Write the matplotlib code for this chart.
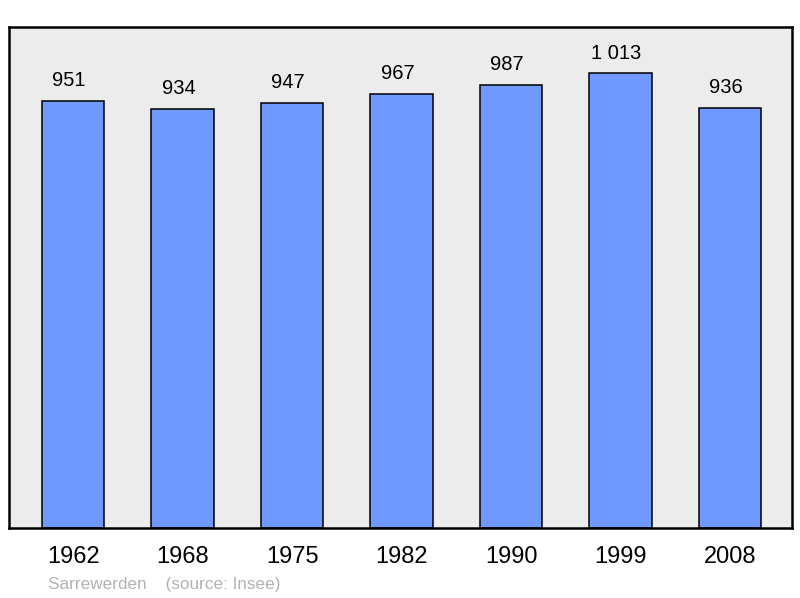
import matplotlib
matplotlib.use('Agg')
import matplotlib.pyplot as plt

plt.rcParams['font.family'] = ['Liberation Sans', 'DejaVu Sans']

years = ['1962', '1968', '1975', '1982', '1990', '1999', '2008']
population = [951, 934, 947, 967, 987, 1013, 936]
value_labels = ['951', '934', '947', '967', '987', '1 013', '936']

fig = plt.figure(figsize=(8, 5.98), dpi=100)
ax = fig.add_axes([9/800, 70/598, 783/800, 501/598])
ax.set_facecolor('#ececec')

pos = range(len(years))
ax.bar(pos, population, width=0.57, color='#7099ff', edgecolor='black', linewidth=1.1, zorder=2)

for x, v, lab in zip(pos, population, value_labels):
    ax.annotate(lab, (x, v), xytext=(-3, 14.5), textcoords='offset points',
                ha='center', va='center', fontsize=14.5)

ax.set_xlim(-0.585, 6.565)
ax.set_ylim(0, 1116)
ax.set_yticks([])
ax.set_xticks(list(pos))
ax.set_xticklabels(years, fontsize=17)
ax.tick_params(axis='x', length=0, pad=13)
for s in ax.spines.values():
    s.set_linewidth(1.8)

fig.text(48/800, 1 - 584/598, 'Sarrewerden    (source: Insee)', color='#b3b3b3',
         fontsize=12.3, ha='left', va='center')

fig.savefig('out.png', dpi=100)
